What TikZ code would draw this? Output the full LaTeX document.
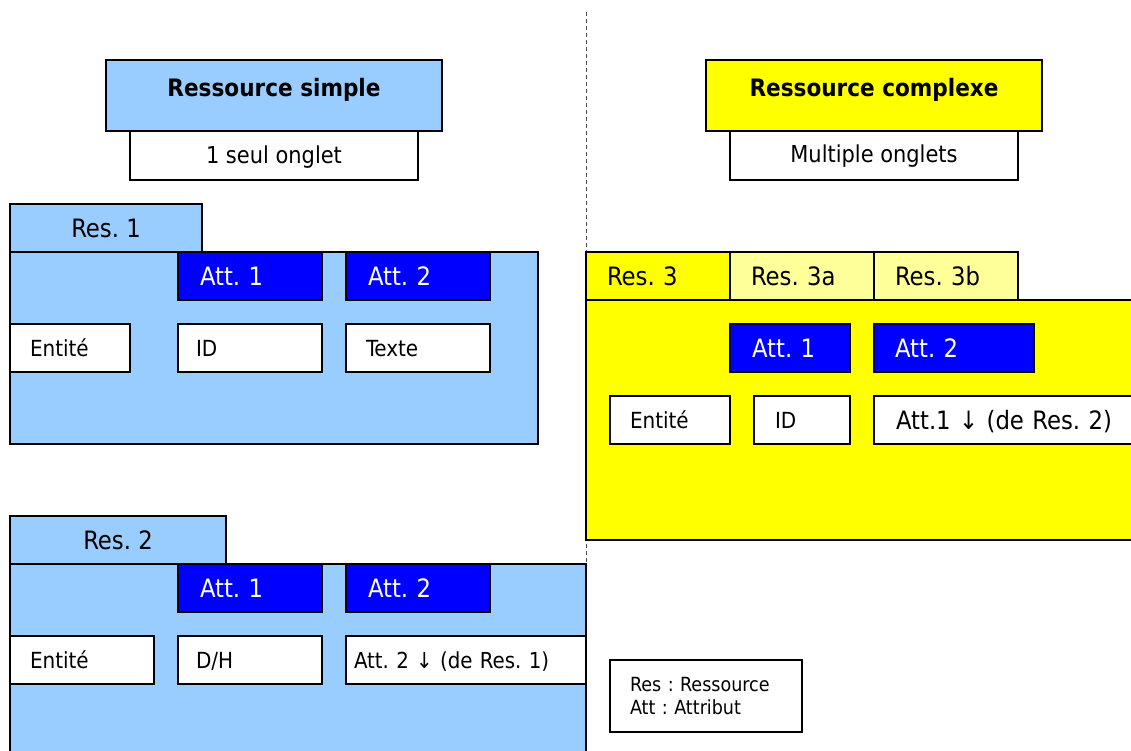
\documentclass[tikz,border=0pt]{standalone}
\usepackage{fontspec}
\setmainfont{DejaVu Sans Condensed}
\definecolor{lblue}{HTML}{99CCFF}
\definecolor{ablue}{HTML}{0000FF}
\definecolor{yel}{HTML}{FFFF00}
\definecolor{lyel}{HTML}{FFFF99}
\frenchspacing
\begin{document}
\begin{tikzpicture}[x=1pt,y=-1pt,
  every node/.style={anchor=north west, inner sep=0pt, outer sep=0pt},
  boxbase/.style={draw=black, line width=1.6pt, rectangle},
  bigf/.style={font=\fontsize{25.3}{29}\selectfont, text height=18.4pt, text depth=0pt},
  smallf/.style={font=\fontsize{22.2}{26}\selectfont, text height=16.2pt, text depth=0pt},
  panel/.style={boxbase},
  tabbox/.style={boxbase, bigf, minimum height=48pt},
  attbox/.style={boxbase, fill=ablue, text=white, bigf, minimum height=48pt, align=left},
  valbox/.style={boxbase, fill=white, smallf, minimum height=48pt, align=left},
  hdrbox/.style={boxbase, minimum width=336pt, minimum height=71pt},
  subbox/.style={boxbase, fill=white, minimum width=288pt, minimum height=49pt},
  hdrtext/.style={anchor=base, font=\fontsize{24}{28}\selectfont\bfseries},
  subtext/.style={anchor=base, font=\fontsize{23.3}{27}\selectfont},
  divider/.style={draw=black!70, line width=1pt, dash pattern=on 4pt off 3pt}
]
\useasboundingbox (0,0) rectangle (1131,751);
\clip (0,0) rectangle (1131,751);

% divider
\coordinate (dtop) at (586,12);
\coordinate (dbot) at (586,564);
\draw[divider] (dtop) -- (dbot);

% headers
\node[hdrbox, fill=lblue] (hs) at (106,60) {};
\node[hdrtext] (hst) at (274,97) {Ressource simple};
\node[subbox] (ss) at (130,131) {};
\node[subtext] (sst) at (274,164) {1 seul onglet};

\node[hdrbox, fill=yel] (hc) at (706,60) {};
\node[hdrtext] (hct) at (874,97) {Ressource complexe};
\node[subbox] (sc) at (730,131) {};
\node[subtext] (sct) at (874,163) {Multiple onglets};

% Res. 1
\node[panel, fill=lblue, minimum width=528pt, minimum height=192pt] (b1) at (10,252) {};
\node[tabbox, fill=lblue, minimum width=192pt] (t1) at (10,204) {Res. 1};
\node[attbox, inner xsep=22pt, text width=100pt] (r1a1) at (178,252) {Att. 1};
\node[attbox, inner xsep=22pt, text width=100pt] (r1a2) at (346,252) {Att. 2};
\node[valbox, inner xsep=20pt, text width=80pt] (r1e) at (10,324) {Entité};
\node[valbox, inner xsep=18pt, text width=108pt] (r1id) at (178,324) {ID};
\node[valbox, inner xsep=20pt, text width=104pt] (r1t) at (346,324) {Texte};

% Res. 2
\node[panel, fill=lblue, minimum width=576pt, minimum height=200pt] (b2) at (10,564) {};
\node[tabbox, fill=lblue, minimum width=216pt] (t2) at (10,516) {Res. 2};
\node[attbox, inner xsep=22pt, text width=100pt] (r2a1) at (178,564) {Att. 1};
\node[attbox, inner xsep=22pt, text width=100pt] (r2a2) at (346,564) {Att. 2};
\node[valbox, inner xsep=20pt, text width=104pt] (r2e) at (10,636) {Entité};
\node[valbox, inner xsep=18pt, text width=108pt] (r2dh) at (178,636) {D/H};
\node[valbox, inner xsep=8pt, text width=224pt, font=\fontsize{22}{26}\selectfont] (r2a) at (346,636) {Att. 2 ↓ (de Res. 1)};

% Res. 3
\node[panel, fill=yel, minimum width=560pt, minimum height=240pt] (b3) at (586,300) {};
\node[tabbox, fill=yel, align=left, inner xsep=21pt, text width=102pt] (t3) at (586,252) {Res. 3};
\node[tabbox, fill=lyel, align=left, inner xsep=21pt, text width=102pt] (t3a) at (730,252) {Res. 3a};
\node[tabbox, fill=lyel, align=left, inner xsep=21pt, text width=102pt] (t3b) at (874,252) {Res. 3b};
\node[attbox, inner xsep=22pt, text width=76pt] (r3a1) at (730,324) {Att. 1};
\node[attbox, inner xsep=21pt, text width=118pt] (r3a2) at (874,324) {Att. 2};
\node[valbox, inner xsep=20pt, text width=80pt] (r3e) at (610,396) {Entité};
\node[valbox, inner xsep=21pt, text width=54pt] (r3id) at (754,396) {ID};
\node[valbox, bigf, inner xsep=22pt, text width=236pt] (r3a) at (874,396) {Att.1 ↓ (de Res. 2)};

% legend
\node[boxbase, fill=white, minimum width=192pt, minimum height=72pt, inner xsep=20pt, text width=152pt, align=left, font=\fontsize{19.5}{23}\selectfont] (leg) at (610,660) {Res : Ressource\\Att : Attribut};
\end{tikzpicture}
\end{document}
